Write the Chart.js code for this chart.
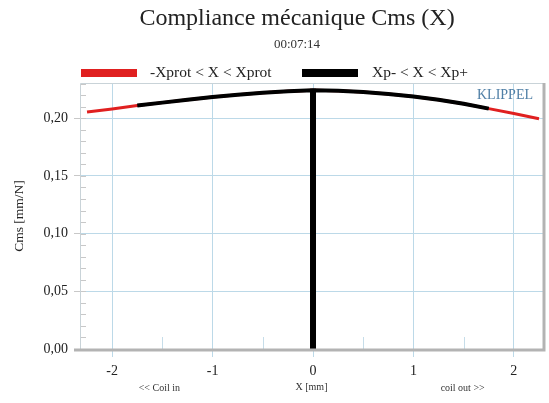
<!DOCTYPE html>
<html>
<head>
<meta charset="utf-8">
<script src="https://cdn.jsdelivr.net/npm/chart.js@4/dist/chart.umd.min.js"></script>
<style>
  html, body { margin: 0; padding: 0; background: #fff; }
</style>
</head>
<body>
<canvas id="cms-chart" width="549" height="403"></canvas>
<script>
const serif = '"Liberation Serif", "DejaVu Serif", serif';

// Cms(X)
const xValues = [-2.25, -2.0, -1.75, -1.5, -1.25, -1.0, -0.75, -0.5, -0.25, 0, 0.25, 0.5, 0.75, 1.0, 1.25, 1.5, 1.75, 2.0, 2.25];
const cmsValues = [0.2053, 0.2080, 0.2110, 0.2135, 0.2160, 0.2183, 0.2203, 0.2220, 0.2233, 0.2242, 0.2238, 0.2228, 0.2210, 0.2188, 0.2160, 0.2125, 0.2083, 0.2040, 0.1995];
const xpLimits = [-1.75, 1.75];
const restPosition = [0, 0];
const restCms = [0, 0.2255];
const xTicks = [-2, -1, 0, 1, 2];
const yTicks = [0, 0.05, 0.10, 0.15, 0.20];
const legendLabels = ['-Xprot < X < Xprot', 'Xp- < X < Xp+'];

const protPoints = xValues.map((x, i) => ({ x: x, y: cmsValues[i] }));
const xpPoints = protPoints.filter(p => p.x >= xpLimits[0] && p.x <= xpLimits[1]);
const restPoints = restPosition.map((x, i) => ({ x: x, y: restCms[i] }));

const gridBlue = '#bcd9e8';

// title, subtitle, legend, side notes and frame
const decorations = {
    id: 'decorations',
    beforeDraw(chart) {
        const ctx = chart.ctx;
        ctx.save();
        ctx.fillStyle = '#fff';
        ctx.fillRect(0, 0, chart.width, chart.height);
        ctx.restore();
    },
    afterDraw(chart) {
        const ctx = chart.ctx;
        const area = chart.chartArea;
        const xs = chart.scales.x;
        const ys = chart.scales.y;
        ctx.save();
        ctx.textBaseline = 'middle';
        ctx.textAlign = 'center';
        ctx.fillStyle = '#222';
        ctx.font = '24px ' + serif;
        ctx.fillText('Compliance mécanique Cms (X)', 297, 19);
        ctx.font = '13px ' + serif;
        ctx.fillStyle = '#333';
        ctx.fillText('00:07:14', 297, 45);

        // legend
        const items = [
            { box: 81, text: 150, color: chart.data.datasets[0].borderColor, label: legendLabels[0] },
            { box: 302, text: 372, color: chart.data.datasets[1].borderColor, label: legendLabels[1] }
        ];
        ctx.font = '15.5px ' + serif;
        ctx.textAlign = 'left';
        items.forEach(it => {
            ctx.fillStyle = it.color;
            ctx.fillRect(it.box, 69, 56, 8);
            ctx.fillStyle = '#222';
            ctx.fillText(it.label, it.text, 73);
        });

        // minor ticks inside the frame
        ctx.strokeStyle = '#c8c8c8';
        ctx.lineWidth = 1;
        for (let v = 0.01; v < ys.max; v += 0.01) {
            const py = Math.round(ys.getPixelForValue(v)) + 0.5;
            ctx.beginPath();
            ctx.moveTo(area.left, py);
            ctx.lineTo(area.left + 6, py);
            ctx.stroke();
        }
        ctx.strokeStyle = '#c6dde9';
        [-1.5, -0.5, 0.5, 1.5].forEach(v => {
            const px = Math.round(xs.getPixelForValue(v)) + 0.5;
            ctx.beginPath();
            ctx.moveTo(px, area.bottom);
            ctx.lineTo(px, area.bottom - 12);
            ctx.stroke();
        });

        // frame: light top/left, heavy bottom/right
        ctx.strokeStyle = '#c9d3d8';
        ctx.lineWidth = 1;
        ctx.beginPath();
        ctx.moveTo(area.left + 0.5, area.bottom);
        ctx.lineTo(area.left + 0.5, area.top + 0.5);
        ctx.lineTo(area.right, area.top + 0.5);
        ctx.stroke();
        ctx.strokeStyle = '#b3b3b3';
        ctx.lineWidth = 3;
        ctx.beginPath();
        ctx.moveTo(area.left - 6, area.bottom + 1);
        ctx.lineTo(area.right + 1, area.bottom + 1);
        ctx.lineTo(area.right + 1, area.top);
        ctx.stroke();

        ctx.fillStyle = '#4f7fa6';
        ctx.font = '14px ' + serif;
        ctx.textAlign = 'right';
        ctx.fillText('KLIPPEL', area.right - 10, area.top + 12);

        ctx.fillStyle = '#333';
        ctx.font = '10px ' + serif;
        ctx.textAlign = 'center';
        ctx.fillText('<< Coil in', xs.getPixelForValue(-1.53), 388);
        ctx.fillText('coil out >>', xs.getPixelForValue(1.49), 388);
        ctx.restore();
    }
};

new Chart(document.getElementById('cms-chart'), {
    type: 'scatter',
    data: {
        datasets: [{
            label: legendLabels[0],
            data: protPoints,
            showLine: true,
            borderColor: '#e02020',
            borderWidth: 3,
            pointRadius: 0,
            order: 3
        }, {
            label: legendLabels[1],
            data: xpPoints,
            showLine: true,
            borderColor: '#000000',
            borderWidth: 4,
            pointRadius: 0,
            order: 2
        }, {
            label: 'rest',
            data: restPoints,
            showLine: true,
            borderColor: '#000000',
            borderWidth: 6,
            pointRadius: 0,
            order: 1
        }]
    },
    options: {
        responsive: false,
        animation: false,
        layout: {
            padding: { top: 83, left: 8, right: 6, bottom: 10 }
        },
        scales: {
            x: {
                type: 'linear',
                min: -2.32,
                max: 2.29,
                afterBuildTicks: (scale) => { scale.ticks = xTicks.map(v => ({ value: v })); },
                afterFit: (scale) => { scale.height = 44; },
                ticks: {
                    color: '#222',
                    font: { family: serif, size: 14 },
                    padding: 6,
                    callback: (val) => String(val)
                },
                grid: { color: gridBlue, tickLength: 8, tickColor: gridBlue },
                border: { display: false },
                title: {
                    display: true,
                    text: 'X [mm]',
                    color: '#333',
                    font: { family: serif, size: 10 },
                    padding: { top: 2, bottom: 0 }
                }
            },
            y: {
                type: 'linear',
                min: 0,
                max: 0.2305,
                afterBuildTicks: (scale) => { scale.ticks = yTicks.map(v => ({ value: v })); },
                afterFit: (scale) => { scale.width = 72; },
                ticks: {
                    color: '#222',
                    font: { family: serif, size: 14 },
                    padding: 6,
                    callback: (val) => val.toFixed(2).replace('.', ',')
                },
                grid: { color: gridBlue, tickLength: 6, tickColor: '#c8c8c8' },
                border: { display: false },
                title: {
                    display: true,
                    text: 'Cms [mm/N]',
                    color: '#222',
                    font: { family: serif, size: 13.5 },
                    padding: { top: 3, bottom: 4 }
                }
            }
        },
        plugins: {
            legend: { display: false },
            tooltip: { enabled: false }
        }
    },
    plugins: [decorations]
});
</script>
</body>
</html>
